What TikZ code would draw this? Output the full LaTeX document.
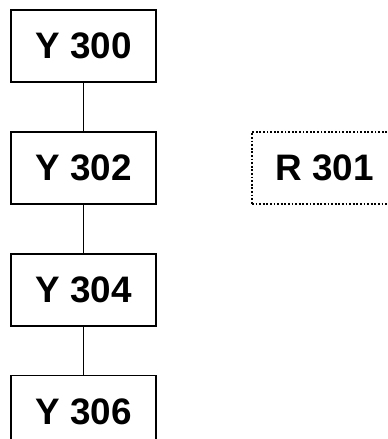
\documentclass[tikz,border=0pt]{standalone}
\usepackage{fontspec}
\setmainfont{Liberation Sans}
\usetikzlibrary{positioning}
\tikzset{
    base/.style={draw, line width=1.8bp, minimum width=145bp, minimum height=72bp, inner sep=0pt, font=\fontsize{37}{42}\selectfont\bfseries},
    ybox/.style={base, rectangle},
    rbox/.style={base, rectangle, line width=2bp, dash pattern=on 1.8bp off 1.8bp},
    link/.style={draw, line width=1.3bp}
}
\begin{document}
\begin{tikzpicture}[node distance=48bp]
    \useasboundingbox (0,0) rectangle (388bp,-439bp);
    \clip (0,0) rectangle (388bp,-439bp);
    % Nodes
    \node [ybox] (y300) at (83.5bp,-46bp) {Y 300};
    \node [ybox, below=of y300] (y302) {Y 302};
    \node [ybox, below=of y302] (y304) {Y 304};
    \node [ybox, below=of y304] (y306) {Y 306};
    \node [rbox, right=94bp of y302] (r301) {R 301};

    % Connections
    \draw [link] (y300) -- (y302);
    \draw [link] (y302) -- (y304);
    \draw [link] (y304) -- (y306);
\end{tikzpicture}
\end{document}
